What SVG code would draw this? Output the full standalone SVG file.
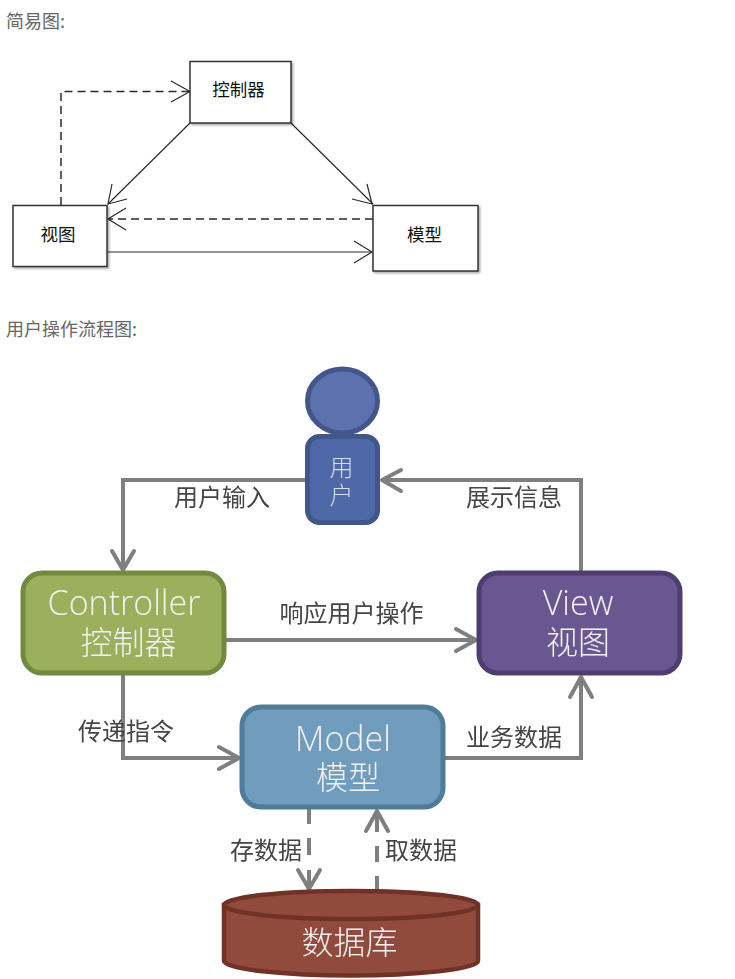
<svg xmlns="http://www.w3.org/2000/svg" width="735" height="979" viewBox="0 0 735 979">
<style>
text{font-family:"Noto Sans CJK SC","Noto Sans",sans-serif}
.h{font-size:18px;fill:#666}
.s{font-size:17.500px;fill:#111;text-anchor:middle}
.box{fill:#fff;stroke:#333;stroke-width:1.500;filter:url(#shadow)}
.thin{fill:none;stroke:#2a2a2a;stroke-width:1.200}
.dash{stroke-dasharray:8 5;stroke-width:1.500}
.lab{font-size:24px;fill:#444;text-anchor:middle}
.t{fill:#f2f2f2;text-anchor:middle;font-size:32px;font-weight:300}
.lat{font-family:"Open Sans","Noto Sans",sans-serif;font-size:34px;font-weight:300}
.con{fill:none;stroke:#7f7f7f;stroke-width:4}
.hd{fill:none;stroke:#7f7f7f;stroke-width:4;stroke-linecap:round;stroke-linejoin:round}
.n{stroke-width:5}
</style>
<defs>
<filter id="shadow" x="-5%" y="-5%" width="112%" height="115%"><feDropShadow dx="1.500" dy="1.500" stdDeviation="1" flood-color="#000" flood-opacity="0.35"/></filter>
<filter id="soft"><feGaussianBlur stdDeviation="0.600"/></filter>
</defs>
<text class="h" x="6" y="28">简易图:</text>
<text class="h" x="6" y="336">用户操作流程图:</text>
<g id="simple-connectors">
<path class="thin dash" d="M61 205V91.500H189"/>
<path class="thin" d="M171 81L190 91.500L171 102"/>
<path class="thin" d="M190 123L108 204"/>
<path class="thin" d="M112 184L108 204L127 199"/>
<path class="thin" d="M291 123L373 204"/>
<path class="thin" d="M367 184L372 204L352 199"/>
<path class="thin dash" d="M373 219H108"/>
<path class="thin" d="M126 208L108 219L126 230"/>
<path class="thin" d="M107 252H372" stroke-width="1.500"/>
<path class="thin" d="M354 241L372 252L354 263"/>
</g>
<g id="simple-controller"><rect class="box" x="190" y="61.500" width="101" height="61.500"/><text class="s" x="238.500" y="96">控制器</text></g>
<g id="simple-view"><rect class="box" x="13" y="205.500" width="94" height="61"/><text class="s" x="58" y="241">视图</text></g>
<g id="simple-model"><rect class="box" x="373" y="205.500" width="105" height="65.500"/><text class="s" x="424.500" y="241">模型</text></g>
<g filter="url(#soft)">
<g id="connectors">
<path class="con" d="M306 480H123V569"/>
<path class="hd" d="M112 551L123 570L134 551"/>
<path class="con" d="M581 571V480H383"/>
<path class="hd" d="M401 470L382 480L401 491"/>
<path class="con" d="M226 640H475"/>
<path class="hd" d="M456 629L476 640L456 651"/>
<path class="con" d="M123 675V758H238"/>
<path class="hd" d="M219 747L239 758L219 769"/>
<path class="con" d="M445 758H581V678"/>
<path class="hd" d="M570 697L581 677L592 697"/>
<path class="con" d="M309 809V824M309 838V855M309 870V889"/>
<path class="hd" d="M298 870L309 889L320 870"/>
<path class="con" d="M377 812V832M377 846V862M377 876V892"/>
<path class="hd" d="M366 831L377 811L388 831"/>
</g>
<text class="lab" x="222" y="506">用户输入</text>
<text class="lab" x="514" y="506">展示信息</text>
<text class="lab" x="351.500" y="622">响应用户操作</text>
<text class="lab" x="126" y="740">传递指令</text>
<text class="lab" x="514" y="746">业务数据</text>
<text class="lab" x="266" y="859">存数据</text>
<text class="lab" x="421" y="859">取数据</text>
<g id="user">
<ellipse class="n" cx="342.500" cy="401" rx="35" ry="32" fill="#5c71ae" stroke="#425689"/>
<rect class="n" x="307.500" y="436.500" width="70" height="86" rx="12" fill="#4f68a8" stroke="#425689"/>
<text fill="#d5dcee" font-size="24" text-anchor="middle" font-weight="300"><tspan x="341.500" y="476">用</tspan><tspan x="341.500" y="504">户</tspan></text>
</g>
<g id="controller">
<rect class="n" x="23" y="573" width="201" height="100" rx="19" fill="#9bb05c" stroke="#718a40"/>
<text class="t"><tspan class="lat" x="124" y="615">Controller</tspan><tspan x="128.500" y="654">控制器</tspan></text>
</g>
<g id="view">
<rect class="n" x="479" y="573" width="201" height="100" rx="19" fill="#6b5790" stroke="#4e3c6f"/>
<text class="t"><tspan class="lat" x="578" y="615">View</tspan><tspan x="578" y="654">视图</tspan></text>
</g>
<g id="model">
<rect class="n" x="242" y="707" width="201" height="100" rx="19" fill="#6f9cbe" stroke="#507b98"/>
<text class="t"><tspan class="lat" x="343" y="751">Model</tspan><tspan x="348" y="789">模型</tspan></text>
</g>
<g id="database">
<path d="M224 905V961C224 969 285 975.500 350.500 975.500S478 969 478 961V905Z" fill="#914c3e" stroke="#6f3226" stroke-width="4.500"/>
<ellipse cx="351" cy="905" rx="127" ry="14" fill="#914c3e" stroke="#6f3226" stroke-width="4.500"/>
<text class="t" x="349.500" y="954">数据库</text>
</g>
</g>
</svg>
